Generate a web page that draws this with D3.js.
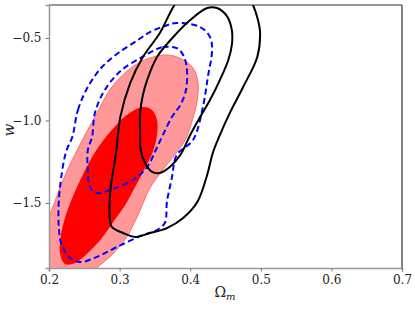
<!DOCTYPE html>
<html>
<head>
<meta charset="utf-8">
<script src="https://cdn.jsdelivr.net/npm/d3@7"></script>
<style>
  body { margin: 0; background: #fff; }
  svg { display: block; }
</style>
</head>
<body>
<div id="chart"></div>
<script>
// contour outlines, [Omega_m, w]
const redOuter = [
  [0.367, -0.603], [0.388, -0.627], [0.404, -0.682], [0.411, -0.767], [0.410, -0.876],
  [0.403, -0.997], [0.393, -1.118], [0.378, -1.209], [0.361, -1.300], [0.343, -1.409],
  [0.326, -1.573], [0.310, -1.706], [0.289, -1.815], [0.268, -1.894], [0.244, -2.027],
  [0.216, -2.088], [0.190, -2.027], [0.184, -1.845], [0.194, -1.664], [0.204, -1.542],
  [0.223, -1.330], [0.251, -1.088], [0.265, -0.979], [0.289, -0.797], [0.318, -0.676],
  [0.343, -0.621]
];
const redInner = [
  [0.333, -0.918], [0.346, -0.936], [0.353, -0.997], [0.353, -1.088], [0.347, -1.191],
  [0.336, -1.288], [0.322, -1.403], [0.308, -1.512], [0.291, -1.615], [0.275, -1.712],
  [0.255, -1.803], [0.237, -1.864], [0.223, -1.870], [0.216, -1.815], [0.216, -1.724],
  [0.221, -1.615], [0.230, -1.500], [0.241, -1.391], [0.255, -1.270], [0.269, -1.167],
  [0.289, -1.058], [0.310, -0.967]
];
const blueOuter = [
  [0.233, -1.100], [0.241, -0.936], [0.255, -0.797], [0.275, -0.676], [0.298, -0.591],
  [0.326, -0.512], [0.343, -0.464], [0.364, -0.427], [0.381, -0.409], [0.414, -0.433],
  [0.428, -0.494], [0.431, -0.573], [0.425, -0.736], [0.418, -0.918], [0.404, -1.118],
  [0.381, -1.209], [0.374, -1.348], [0.367, -1.494], [0.364, -1.621], [0.350, -1.670],
  [0.333, -1.694], [0.296, -1.767], [0.268, -1.827], [0.244, -1.858], [0.230, -1.833],
  [0.218, -1.755], [0.214, -1.652], [0.214, -1.482], [0.220, -1.270], [0.225, -1.179]
];
const blueInner = [
  [0.350, -0.573], [0.361, -0.555], [0.381, -0.561], [0.390, -0.603], [0.395, -0.676],
  [0.394, -0.815], [0.386, -0.906], [0.374, -0.979], [0.360, -1.100], [0.350, -1.191],
  [0.339, -1.282], [0.319, -1.361], [0.286, -1.421], [0.268, -1.439], [0.258, -1.403],
  [0.255, -1.300], [0.255, -1.179], [0.261, -1.100], [0.265, -0.955], [0.279, -0.815],
  [0.303, -0.694], [0.332, -0.615]
];
const blackInner = [
  [0.376, -0.494], [0.400, -0.391], [0.424, -0.318], [0.438, -0.318], [0.452, -0.367],
  [0.459, -0.452], [0.459, -0.542], [0.454, -0.633], [0.442, -0.755], [0.428, -0.876],
  [0.414, -0.979], [0.400, -1.088], [0.386, -1.209], [0.371, -1.282], [0.357, -1.318],
  [0.346, -1.312], [0.336, -1.258], [0.330, -1.179], [0.329, -1.058], [0.329, -0.955],
  [0.333, -0.845], [0.339, -0.755], [0.353, -0.615]
];
const blackOuter = [
  [0.333, -0.615], [0.357, -0.470], [0.376, -0.312], [0.393, -0.209], [0.435, -0.148],
  [0.478, -0.209], [0.489, -0.300], [0.496, -0.391], [0.499, -0.470], [0.495, -0.615],
  [0.475, -0.797], [0.456, -0.955], [0.442, -1.088], [0.432, -1.197], [0.424, -1.330],
  [0.410, -1.494], [0.390, -1.591], [0.367, -1.652], [0.343, -1.682], [0.322, -1.706],
  [0.305, -1.682], [0.289, -1.645], [0.286, -1.585], [0.287, -1.421], [0.295, -1.197],
  [0.301, -0.979], [0.315, -0.773]
];

const xTicks = [0.2, 0.3, 0.4, 0.5, 0.6, 0.7];
const yTicks = [-1.5, -1.0, -0.5];

const width = 415;
const height = 310;
const margin = { top: 5, right: 13, bottom: 42, left: 49 };
const serif = '"DejaVu Serif", "Liberation Serif", "Times New Roman", serif';

const svg = d3.select('#chart')
  .append('svg')
  .attr('width', width)
  .attr('height', height);

const x = d3.scaleLinear().domain([0.2, 0.7]).range([margin.left, width - margin.right]);
const y = d3.scaleLinear().domain([-1.894, -0.3]).range([height - margin.bottom, margin.top]);

svg.append('clipPath')
  .attr('id', 'plot-clip')
  .append('rect')
  .attr('x', margin.left)
  .attr('y', margin.top)
  .attr('width', width - margin.left - margin.right)
  .attr('height', height - margin.top - margin.bottom);

const line = d3.line()
  .x((d) => x(d[0]))
  .y((d) => y(d[1]))
  .curve(d3.curveCatmullRomClosed.alpha(0.5));

const g = svg.append('g').attr('clip-path', 'url(#plot-clip)');

g.append('path').attr('d', line(redOuter))
  .attr('fill', '#ff9999').attr('stroke', '#ff6a6a').attr('stroke-width', 1);
g.append('path').attr('d', line(redInner))
  .attr('fill', '#ff0000').attr('stroke', 'none');

[blueOuter, blueInner].forEach((c) => {
  g.append('path').attr('d', line(c))
    .attr('fill', 'none').attr('stroke', '#0000ff')
    .attr('stroke-width', 2).attr('stroke-dasharray', '6,3.5');
});

[blackOuter, blackInner].forEach((c) => {
  g.append('path').attr('d', line(c))
    .attr('fill', 'none').attr('stroke', '#000')
    .attr('stroke-width', 2);
});

// frame
const fmt = (d) => d.toFixed(1).replace('-', '\u2212');
svg.append('line')
  .attr('x1', margin.left).attr('x2', width - margin.right)
  .attr('y1', margin.top).attr('y2', margin.top)
  .attr('stroke', '#333').attr('stroke-width', 1.2);
svg.append('line')
  .attr('x1', width - margin.right).attr('x2', width - margin.right)
  .attr('y1', margin.top).attr('y2', height - margin.bottom)
  .attr('stroke', '#333').attr('stroke-width', 1.2);

const xAxis = svg.append('g')
  .attr('transform', `translate(0,${height - margin.bottom})`)
  .call(d3.axisBottom(x).tickValues(xTicks).tickFormat(fmt).tickSize(3.5).tickPadding(4));
const yAxis = svg.append('g')
  .attr('transform', `translate(${margin.left},0)`)
  .call(d3.axisLeft(y).tickValues(yTicks).tickFormat(fmt).tickSize(3.5).tickPadding(4));

[xAxis, yAxis].forEach((a) => {
  a.attr('font-family', serif).attr('font-size', 12);
  a.selectAll('.tick text').attr('fill', '#222');
  a.select('.domain').attr('stroke', '#999').attr('stroke-width', 1.5);
  a.selectAll('.tick line').attr('stroke', '#777');
});

svg.append('text')
  .attr('x', 225).attr('y', 297)
  .attr('text-anchor', 'middle')
  .attr('font-family', serif)
  .attr('font-size', 14)
  .attr('fill', '#222')
  .html('<tspan>\u03A9</tspan><tspan font-style="italic" font-size="10" dy="3">m</tspan>');

svg.append('text')
  .attr('transform', 'translate(14,130) rotate(-90)')
  .attr('text-anchor', 'middle')
  .attr('font-family', serif)
  .attr('font-style', 'italic')
  .attr('font-size', 15)
  .attr('fill', '#222')
  .text('w');
</script>
</body>
</html>
